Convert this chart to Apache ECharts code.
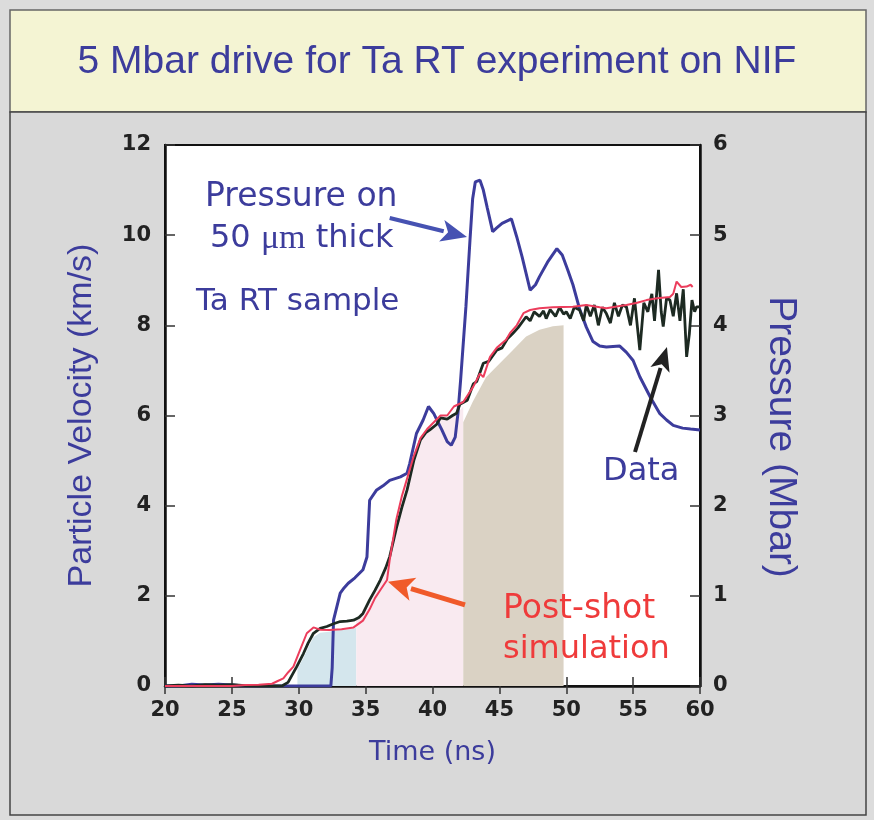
<!DOCTYPE html>
<html><head><meta charset="utf-8">
<script src="https://cdn.jsdelivr.net/npm/echarts@6/dist/echarts.min.js"></script>
<style>html,body{margin:0;padding:0;background:#dcdcdc;}#c{width:874px;height:820px;}</style>
</head><body><div id="c"></div>
<script>
// ---------- data ----------
const xTicks = [20, 25, 30, 35, 40, 45, 50, 55, 60];
const velTicks = [0, 2, 4, 6, 8, 10, 12];
const presTicks = [0, 1, 2, 3, 4, 5, 6];

// Pressure on 50 µm Ta sample (Mbar), right axis
const presT = [20,21,22,23,24,25,26,27,28,29,30,31,32,32.4,32.5,32.6,33.1,33.4,33.7,34.2,34.8,35.1,35.3,35.8,36.3,36.8,37.6,38.1,38.3,38.8,39.3,39.7,40.1,40.4,40.7,41.1,41.4,41.7,41.9,42.1,42.5,42.8,43.0,43.2,43.55,43.8,44.1,44.5,44.8,45.2,45.9,46.3,46.7,47.3,47.7,48.0,48.6,49.3,49.7,50.1,50.5,51.0,51.5,52.0,52.5,53.0,54.0,54.5,55.0,55.5,56.3,57.0,57.5,58.0,58.7,59.3,60];
const presP = [0,0,0.02,0.01,0.02,0.01,0,0,0,0,0,0,0,0,0.2,0.73,1.03,1.09,1.14,1.2,1.29,1.43,2.06,2.17,2.22,2.28,2.32,2.36,2.47,2.80,2.95,3.10,3.02,2.93,2.84,2.71,2.67,2.76,3.02,3.39,4.21,4.94,5.4,5.59,5.61,5.5,5.3,5.04,5.08,5.13,5.18,4.98,4.76,4.39,4.45,4.54,4.70,4.85,4.78,4.62,4.45,4.18,3.98,3.82,3.77,3.76,3.77,3.70,3.61,3.43,3.20,3.02,2.95,2.89,2.86,2.85,2.84];

// Measured particle velocity (km/s), left axis
const dataT = [20,21,22,23,24,25,26,27,28,28.8,29.2,29.85,30.35,30.7,31.1,31.6,32.1,32.6,33.1,33.6,34.1,34.5,34.8,35.3,35.7,36.1,36.5,36.8,37.3,37.7,38.1,38.6,39.1,39.5,39.8,40.3,40.6,41.1,41.5,41.8,42.05,42.6,43.05,43.3,43.8,44.2,44.8,45.2,45.6,46.0,46.4,47.0,47.3,47.6,48.0,48.3,48.5,48.8,49.2,49.5,49.8,50.0,50.3,50.6,51.0,51.3,51.5,51.8,52.1,52.4,52.7,53.0,53.3,53.6,53.9,54.2,54.5,54.8,55.1,55.5,55.8,56.1,56.4,56.6,56.9,57.1,57.25,57.5,57.75,58.0,58.25,58.5,58.75,59.0,59.2,59.4,59.6,59.75,60];
const dataV = [0,0.02,0,0.03,0.02,0.03,0.01,0,0,0.01,0.08,0.43,0.72,0.95,1.17,1.28,1.32,1.38,1.43,1.44,1.46,1.52,1.61,1.91,2.12,2.35,2.62,2.87,3.5,3.95,4.35,5.0,5.46,5.62,5.68,5.8,5.95,5.92,6.0,6.05,6.25,6.34,6.7,6.75,7.16,7.2,7.45,7.5,7.7,7.82,7.95,8.19,8.1,8.3,8.2,8.32,8.15,8.35,8.2,8.4,8.25,8.3,8.15,8.4,8.34,8.1,8.45,8.2,8.45,8.0,8.4,8.26,8.05,8.5,8.2,8.45,8.41,8.0,8.6,7.45,8.5,8.3,8.7,8.1,9.23,8.3,7.97,8.6,8.56,8.2,8.71,8.1,8.8,7.3,7.8,8.56,8.3,8.41,8.41];

// Post-shot simulation (km/s), left axis
const simT = [20,25,26,27,28,28.35,28.85,29.2,29.6,30.1,30.6,31.1,31.6,32.3,33.2,34.1,34.8,35.3,35.7,36.1,36.6,36.8,37.3,37.7,38.1,38.6,39.1,39.6,40.1,40.6,41.1,41.6,42.3,43.05,43.55,43.8,44.3,44.8,45.5,45.8,46.3,46.8,47.3,48.0,49.0,50.5,51.5,52.5,53.0,54.0,54.5,55.3,56.0,56.8,57.75,58.0,58.25,58.6,59.0,59.3,59.45];
const simV = [0,0,0.02,0.03,0.05,0.1,0.17,0.3,0.43,0.8,1.17,1.3,1.25,1.24,1.26,1.3,1.45,1.7,1.95,2.13,2.35,2.8,3.7,4.2,4.6,5.1,5.5,5.7,5.85,6.0,6.0,6.2,6.3,6.64,6.93,6.85,7.3,7.5,7.68,7.83,8.0,8.27,8.34,8.38,8.4,8.41,8.45,8.4,8.38,8.43,8.45,8.5,8.56,8.6,8.63,8.7,8.97,8.85,8.86,8.9,8.85];

// shaded regions under the velocity trace (km/s)
const blueT = [29.9,30.35,30.7,31.1,31.6,32.1,33.1,34.1,34.3];
const blueV = [0.38,0.62,0.85,1.08,1.18,1.2,1.24,1.27,1.3];
const pinkT = [34.3,34.8,35.3,35.7,36.1,36.5,36.8,37.3,37.7,38.1,38.6,39.1,39.5,39.8,40.3,40.6,41.1,41.5,41.8,42.3];
const pinkV = [1.5,1.58,1.88,2.1,2.32,2.6,2.85,3.48,3.93,4.33,4.98,5.44,5.6,5.66,5.78,5.93,5.9,5.98,6.03,6.2];
const tanT = [42.3,43.0,44.0,45.0,46.0,47.0,48.0,49.0,49.8];
const tanV = [5.85,6.3,6.85,7.15,7.45,7.75,7.9,7.98,8.0];

// annotation arrows [tailT, tailV, tipT, tipV] in axis units
const arrowPressure = [36.8, 10.38, 42.58, 9.96];
const arrowSim = [42.43, 1.80, 36.67, 2.31];
const arrowData = [55.14, 5.19, 57.53, 7.52];

// ---------- chart ----------
const zip = (a, b) => a.map((t, i) => [t, b[i]]);
const BLUE = '#3c3c9c';
const chart = echarts.init(document.getElementById('c'), null, {renderer: 'canvas'});

const tickFont = {fontFamily: 'DejaVu Sans', fontWeight: 'bold', fontSize: 21, color: '#222'};

function areaSeries(t, v, color) {
  return {type: 'line', data: zip(t, v), xAxisIndex: 0, yAxisIndex: 0, showSymbol: false, symbol: 'none',
    lineStyle: {width: 0, opacity: 0}, areaStyle: {color: color, opacity: 1}, silent: true, z: 1};
}

chart.setOption({
  animation: false,
  backgroundColor: 'transparent',
  title: {
    text: '5 Mbar drive for Ta RT experiment on NIF',
    left: 'center', top: 38,
    textStyle: {color: BLUE, fontFamily: 'Liberation Sans', fontWeight: 'normal', fontSize: 39}
  },
  grid: {left: 165, top: 145, width: 535, height: 541, show: true, backgroundColor: '#ffffff', borderColor: '#111', borderWidth: 2},
  xAxis: [{
    type: 'value', min: 20, max: 60, interval: 5, position: 'bottom',
    axisLine: {show: true, lineStyle: {color: '#111', width: 2.5}},
    axisTick: {show: true, inside: true, length: 9, lineStyle: {color: '#333', width: 1.5}},
    axisLabel: Object.assign({margin: 14, formatter: v => xTicks.includes(v) ? String(v) : ''}, tickFont),
    splitLine: {show: false},
    name: 'Time (ns)', nameLocation: 'middle', nameGap: 53,
    nameTextStyle: {color: BLUE, fontFamily: 'DejaVu Sans', fontSize: 27}
  }, {
    type: 'value', min: 20, max: 60, interval: 5, position: 'top',
    axisLine: {show: true, lineStyle: {color: '#111', width: 2}},
    axisTick: {show: true, inside: true, length: 8, lineStyle: {color: '#333', width: 1.5}},
    axisLabel: {show: false}, splitLine: {show: false}
  }],
  yAxis: [{
    type: 'value', min: 0, max: 12, interval: 2, position: 'left',
    axisLine: {show: true, lineStyle: {color: '#111', width: 2.5}},
    axisTick: {show: true, inside: true, length: 10, lineStyle: {color: '#333', width: 1.5}},
    axisLabel: Object.assign({margin: 14, formatter: v => velTicks.includes(v) ? String(v) : ''}, tickFont),
    splitLine: {show: false},
    name: 'Particle Velocity (km/s)', nameLocation: 'middle', nameRotate: 90, nameGap: 66,
    nameTextStyle: {color: BLUE, fontFamily: 'Liberation Sans', fontSize: 34}
  }, {
    type: 'value', min: 0, max: 6, interval: 1, position: 'right',
    axisLine: {show: true, lineStyle: {color: '#111', width: 2.5}},
    axisTick: {show: true, inside: true, length: 10, lineStyle: {color: '#333', width: 1.5}},
    axisLabel: Object.assign({margin: 13, formatter: v => presTicks.includes(v) ? String(v) : ''}, tickFont),
    splitLine: {show: false}
  }],
  series: [
    areaSeries(blueT, blueV, '#d4e6ed'),
    areaSeries(pinkT, pinkV, '#f9eaf0'),
    areaSeries(tanT, tanV, '#dad2c4'),
    {name: 'Pressure', type: 'line', data: zip(presT, presP), xAxisIndex: 0, yAxisIndex: 1, showSymbol: false, symbol: 'none',
      lineStyle: {color: BLUE, width: 3}, z: 3},
    {name: 'Data', type: 'line', data: zip(dataT, dataV), xAxisIndex: 0, yAxisIndex: 0, showSymbol: false, symbol: 'none',
      lineStyle: {color: '#1d2a22', width: 2.8}, z: 4},
    {name: 'Post-shot simulation', type: 'line', data: zip(simT, simV), xAxisIndex: 0, yAxisIndex: 0, showSymbol: false, symbol: 'none',
      lineStyle: {color: '#ec3d5c', width: 2}, z: 5}
  ]
});

function arrow(a, color, width, headLen, headW) {
  const p0 = chart.convertToPixel({xAxisIndex: 0, yAxisIndex: 0}, [a[0], a[1]]);
  const p1 = chart.convertToPixel({xAxisIndex: 0, yAxisIndex: 0}, [a[2], a[3]]);
  const dx = p1[0] - p0[0], dy = p1[1] - p0[1];
  const L = Math.sqrt(dx * dx + dy * dy), ux = dx / L, uy = dy / L;
  const bx = p1[0] - ux * headLen, by = p1[1] - uy * headLen;
  return [
    {type: 'line', shape: {x1: p0[0], y1: p0[1], x2: bx + ux * 2, y2: by + uy * 2}, style: {stroke: color, lineWidth: width}, z: 20},
    {type: 'polygon', shape: {points: [[p1[0], p1[1]], [bx - uy * headW / 2, by + ux * headW / 2], [bx + ux * headLen * 0.25, by + uy * headLen * 0.25], [bx + uy * headW / 2, by - ux * headW / 2]]},
      style: {fill: color}, z: 20}
  ];
}

const txt = (x, y, text, color, size, extra) => Object.assign({type: 'text', x: x, y: y, z: 20,
  style: {text: text, fill: color, fontFamily: 'DejaVu Sans', fontSize: size, textAlign: 'left', textVerticalAlign: 'middle'}}, extra || {});

chart.setOption({
  graphic: [
    {type: 'rect', shape: {x: 10, y: 10, width: 856, height: 102}, style: {fill: '#f4f4d3', stroke: '#666', lineWidth: 1.5}, z: -100},
    {type: 'rect', shape: {x: 10, y: 112, width: 856, height: 703}, style: {fill: '#d9d9d9', stroke: '#444', lineWidth: 1.5}, z: -100},
    ...arrow(arrowPressure, '#4652b2', 4, 26, 22),
    ...arrow(arrowSim, '#f05a2a', 5, 26, 24),
    ...arrow(arrowData, '#222', 4, 24, 20),
    txt(205, 197, 'Pressure on', BLUE, 33),
    {type: 'text', x: 210, y: 239, z: 20, style: {
      text: '{a|50 }{b|μm}{a| thick}', fill: BLUE, textAlign: 'left', textVerticalAlign: 'middle',
      rich: {a: {fontFamily: 'DejaVu Sans', fontSize: 32, fill: BLUE}, b: {fontFamily: 'Liberation Serif', fontSize: 34, fill: BLUE}}}},
    txt(196, 302, 'Ta RT sample', BLUE, 31),
    txt(603, 472, 'Data', BLUE, 32),
    txt(503, 609, 'Post-shot', '#ef3b3b', 33),
    txt(503, 650, 'simulation', '#ef3b3b', 32),
    {type: 'text', x: 781, y: 437, rotation: -Math.PI / 2, z: 20, style: {
      text: 'Pressure (Mbar)', fill: BLUE, fontFamily: 'Liberation Sans', fontSize: 39, textAlign: 'center', textVerticalAlign: 'middle'}}
  ]
});
</script>
</body></html>
